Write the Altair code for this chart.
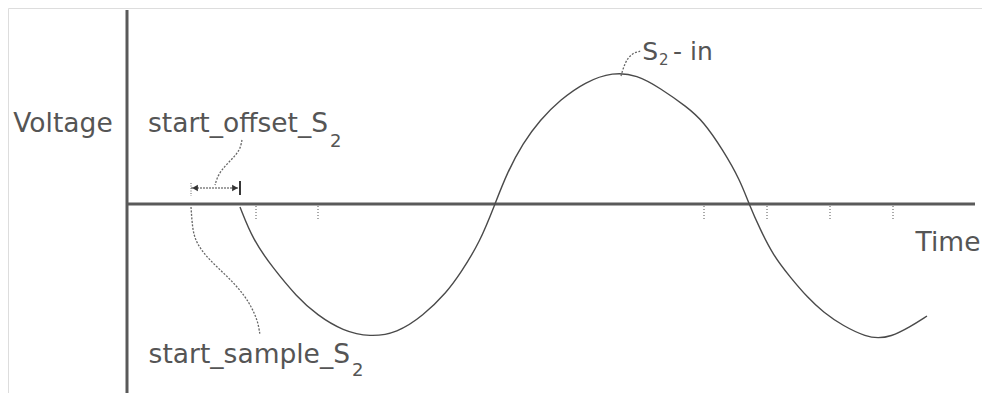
import altair as alt
import pandas as pd

# ---- data (time / voltage in arbitrary units, origin at the axes crossing) ----
wave_time = [113, 126, 146, 170, 190, 216, 243, 270, 296, 320, 333, 353, 368, 380, 396, 413,
             433, 458, 486, 510, 533, 560, 576, 596, 613, 622, 633, 646, 663, 681, 696, 716,
             740, 751, 763, 783, 800]
wave_voltage = [-3, -36, -64, -93, -111, -127, -133, -129, -112, -88, -70, -38, 0, 31, 61, 84,
                104, 122, 132, 129, 116, 97, 83, 54, 24, 0, -25, -51, -73, -94, -108, -122,
                -133, -134, -133, -123, -112]

tick_times = [129, 191, 577, 640, 703, 766]

sample_leader_t = [64, 65, 67, 76, 90, 105, 118, 126, 131, 133]
sample_leader_v = [-3, -18, -34, -49, -63, -77, -92, -106, -118, -131]

offset_leader_t = [115, 113, 106, 98, 91, 88]
offset_leader_v = [64, 54, 46, 38, 29, 19]

peak_leader_t = [494, 498, 505, 514]
peak_leader_v = [128, 142, 151, 153]

offset_start = 64
offset_end = 113
offset_level = 16

FONT = "DejaVu Sans"
TXT = "#555555"
LINE = "#4a4a4a"

X = alt.Scale(domain=[-119, 855], nice=False, zero=False)
Y = alt.Scale(domain=[-189, 196], nice=False, zero=False)

def xe(f):
    return alt.X(f, type="quantitative", scale=X, axis=None)

def ye(f):
    return alt.Y(f, type="quantitative", scale=Y, axis=None)

# axes drawn as rules
axes_df = pd.DataFrame({
    "t": [0, 0], "t2": [0, 848], "v": [194, 0], "v2": [-197, 0]
})
axes = alt.Chart(axes_df).mark_rule(color="#5a5a5a", strokeWidth=3).encode(
    x=xe("t"), x2="t2", y=ye("v"), y2="v2")

ticks_df = pd.DataFrame({"t": tick_times, "v": [-2] * len(tick_times), "v2": [-15] * len(tick_times)})
ticks = alt.Chart(ticks_df).mark_rule(color="#555555", strokeWidth=1, strokeDash=[1, 2]).encode(
    x=xe("t"), y=ye("v"), y2="v2")

wave_df = pd.DataFrame({"t": wave_time, "v": wave_voltage})
wave = alt.Chart(wave_df).mark_line(color=LINE, strokeWidth=1.4, interpolate="basis").encode(
    x=xe("t"), y=ye("v"))

def leader(ts, vs):
    df = pd.DataFrame({"t": ts, "v": vs, "i": list(range(len(ts)))})
    return alt.Chart(df).mark_line(color="#666666", strokeWidth=1.3, strokeDash=[2, 1.5],
                                   interpolate="basis").encode(
        x=xe("t"), y=ye("v"), order="i:Q")

lead1 = leader(sample_leader_t, sample_leader_v)
lead2 = leader(offset_leader_t, offset_leader_v)
lead3 = leader(peak_leader_t, peak_leader_v)

# dimension line for start_offset
dim_df = pd.DataFrame({"t": [offset_start], "t2": [offset_end], "v": [offset_level]})
dim = alt.Chart(dim_df).mark_rule(color="#444444", strokeWidth=1.2, strokeDash=[2, 1]).encode(
    x=xe("t"), x2="t2", y=ye("v"))

bars_df = pd.DataFrame({"t": [offset_start, offset_end], "v": [21, 23], "v2": [8, 9]})
bar_l = alt.Chart(bars_df.iloc[[0]]).mark_rule(color="#666666", strokeWidth=1, strokeDash=[1, 1.5]).encode(
    x=xe("t"), y=ye("v"), y2="v2")
bar_r = alt.Chart(bars_df.iloc[[1]]).mark_rule(color="#222222", strokeWidth=1.8).encode(
    x=xe("t"), y=ye("v"), y2="v2")

arr_l = alt.Chart(pd.DataFrame({"t": [offset_start + 4], "v": [offset_level]})).mark_point(
    shape="triangle-left", filled=True, color="#333333", size=45, opacity=1).encode(x=xe("t"), y=ye("v"))
arr_r = alt.Chart(pd.DataFrame({"t": [offset_end - 5], "v": [offset_level]})).mark_point(
    shape="triangle-right", filled=True, color="#333333", size=45, opacity=1).encode(x=xe("t"), y=ye("v"))

# labels
def label(texts, ts, vs, size, align):
    df = pd.DataFrame({"t": ts, "v": vs, "txt": texts})
    return alt.Chart(df).mark_text(font=FONT, fontSize=size, color=TXT, align=align,
                                   baseline="alphabetic").encode(
        x=xe("t"), y=ye("v"), text="txt:N")

lab_center = label(["Voltage", "Time"], [-64, 821], [72, -47], 26.5, "center")
lab_right = label(["start_offset_S", "start_sample_S"], [201, 223], [72, -159], 26.5, "right")
lab_sub = label(["2", "2"], [203, 225], [57, -172], 18, "left")
lab_peak_s = label(["S"], [531], [144], 25, "right")
lab_peak_sub = label(["2"], [532], [139], 15, "left")
lab_peak_rest = label(["- in"], [546], [144], 25, "left")

chart = alt.layer(
    axes, ticks, wave, lead1, lead2, lead3, dim, bar_l, bar_r, arr_l, arr_r,
    lab_center, lab_right, lab_sub, lab_peak_s, lab_peak_sub, lab_peak_rest
).properties(
    width=974, height=385, padding=0, autosize=alt.AutoSizeParams(type="none")
).configure_view(stroke="transparent", strokeWidth=0).configure(background="#ffffff")

chart.save("out.html", embed_options={"renderer": "svg", "actions": False})
